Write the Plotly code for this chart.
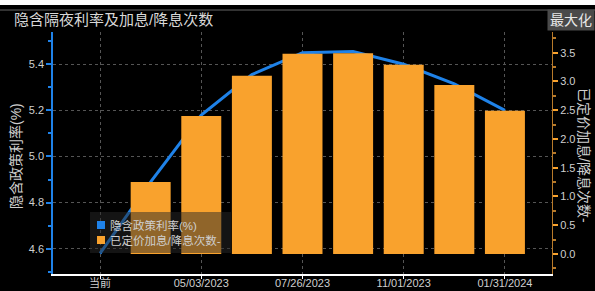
import plotly.graph_objects as go

categories = ["当前", "03/22/2023", "05/03/2023", "06/14/2023", "07/26/2023",
              "09/20/2023", "11/01/2023", "12/13/2023", "01/31/2024"]
implied_rate = [4.58, 4.89, 5.18, 5.355, 5.45, 5.455, 5.40, 5.315, 5.20]
priced_hikes = [0.0, 1.25, 2.40, 3.10, 3.48, 3.49, 3.29, 2.94, 2.49]
x_tick_labels = ["当前", "05/03/2023", "07/26/2023", "11/01/2023", "01/31/2024"]

title_text = "隐含隔夜利率及加息/降息次数"
rate_name = "隐含政策利率(%)"
hikes_name = "已定价加息/降息次数-"

BLUE = "#1f82e8"
ORANGE = "#f9a22d"
TXT = "#cfcfcf"
FONT = "Arial, 'Liberation Sans', 'Noto Sans CJK SC'"

# plot-area pixel geometry helpers
L, R, T, B, W, H = 53, 552, 32, 274, 595, 291
def px(x):
    return (x - L) / (R - L)
def py(y):
    return (B - y) / (B - T)

fig = go.Figure()
fig.add_trace(go.Bar(x=categories, y=priced_hikes, yaxis="y2", marker=dict(color=ORANGE, line=dict(width=0)),
                     width=0.79, showlegend=False, name=hikes_name))
fig.add_trace(go.Scatter(x=categories, y=implied_rate, mode="lines", line=dict(color=BLUE, width=3),
                         showlegend=False, name=rate_name))

fig.update_layout(
    width=W, height=H,
    margin=dict(l=L, r=W - R, t=T, b=H - B, autoexpand=False),
    paper_bgcolor="black", plot_bgcolor="black",
    font=dict(family=FONT, size=11, color=TXT),
    barmode="overlay",
    showlegend=False,
    xaxis=dict(type="category", categoryorder="array", categoryarray=categories,
               range=[-0.93, 8.93], tickvals=x_tick_labels, ticktext=x_tick_labels,
               showgrid=True, gridcolor="#555", griddash="dot", gridwidth=1,
               showline=True, linecolor="white", linewidth=1.5,
               ticks="outside", ticklen=3, tickcolor="white", tickfont=dict(size=11, color=TXT),
               ticklabelstandoff=-5,
               zeroline=False, automargin=False),
    yaxis=dict(range=[4.49, 5.54], dtick=0.2, tick0=4.6, tickformat=".1f",
               showgrid=True, gridcolor="#555", griddash="dot", gridwidth=1,
               showline=True, linecolor=BLUE, linewidth=1.5,
               ticks="outside", ticklen=5, tickcolor=BLUE, tickwidth=2,
               minor=dict(dtick=0.1, ticks="outside", ticklen=3, tickcolor=BLUE, showgrid=False),
               tickfont=dict(size=11, color=TXT), zeroline=False, automargin=False),
    yaxis2=dict(overlaying="y", side="right", range=[-0.348, 3.86], dtick=0.5, tick0=0,
                tickformat=".1f", showgrid=False,
                showline=True, linecolor="#b87a2a", linewidth=1,
                ticks="outside", ticklen=5, tickcolor=ORANGE, tickwidth=2,
                minor=dict(dtick=0.25, ticks="outside", ticklen=3, tickcolor="#b87a2a"),
                tickfont=dict(size=11, color=TXT), zeroline=False, automargin=False),
)

annotations = [
    dict(text=title_text, xref="paper", yref="paper", x=px(12), y=py(20), xanchor="left", yanchor="middle",
         showarrow=False, font=dict(size=15, color="#d8d8d8")),
    dict(text="最大化", xref="paper", yref="paper", x=px(595), y=py(20), xanchor="right", yanchor="middle",
         showarrow=False, font=dict(size=14, color="#e8e8e8"), bgcolor="#4a4a4a", borderpad=2),
    dict(text=rate_name, xref="paper", yref="paper", x=px(16), y=py(156), xanchor="center", yanchor="middle",
         textangle=-90, showarrow=False, font=dict(size=14, color=TXT)),
    dict(text=hikes_name, xref="paper", yref="paper", x=px(584), y=py(155), xanchor="center", yanchor="middle",
         textangle=90, showarrow=False, font=dict(size=14, color=TXT)),
    # manual legend texts
    dict(text=rate_name, xref="paper", yref="paper", x=px(108), y=py(225), xanchor="left", yanchor="middle",
         showarrow=False, font=dict(size=11.5, color=TXT)),
    dict(text=hikes_name, xref="paper", yref="paper", x=px(108), y=py(240), xanchor="left", yanchor="middle",
         showarrow=False, font=dict(size=11.5, color=TXT)),
]
fig.update_layout(annotations=annotations)

fig.update_layout(shapes=[
    dict(type="rect", xref="paper", yref="paper", x0=px(-20), x1=px(620), y0=py(5), y1=py(-10),
         fillcolor="white", line=dict(width=0), layer="above"),
    dict(type="line", xref="paper", yref="paper", x0=px(-20), x1=px(620), y0=py(10), y1=py(10),
         line=dict(color="#666", width=1), layer="above"),
    # legend box and swatches
    dict(type="rect", xref="paper", yref="paper", x0=px(90), x1=px(231), y0=py(253), y1=py(212),
         fillcolor="rgba(40,40,40,0.5)", line=dict(width=0), layer="above"),
    dict(type="rect", xref="paper", yref="paper", x0=px(97), x1=px(105), y0=py(229), y1=py(221),
         fillcolor=BLUE, line=dict(width=0), layer="above"),
    dict(type="rect", xref="paper", yref="paper", x0=px(97), x1=px(105), y0=py(244), y1=py(236),
         fillcolor=ORANGE, line=dict(width=0), layer="above"),
])

fig.write_html("out.html", config={"displayModeBar": False},
               post_script="document.body.style.margin='0';document.body.style.overflow='hidden';"
                           "document.body.style.background='black';")
